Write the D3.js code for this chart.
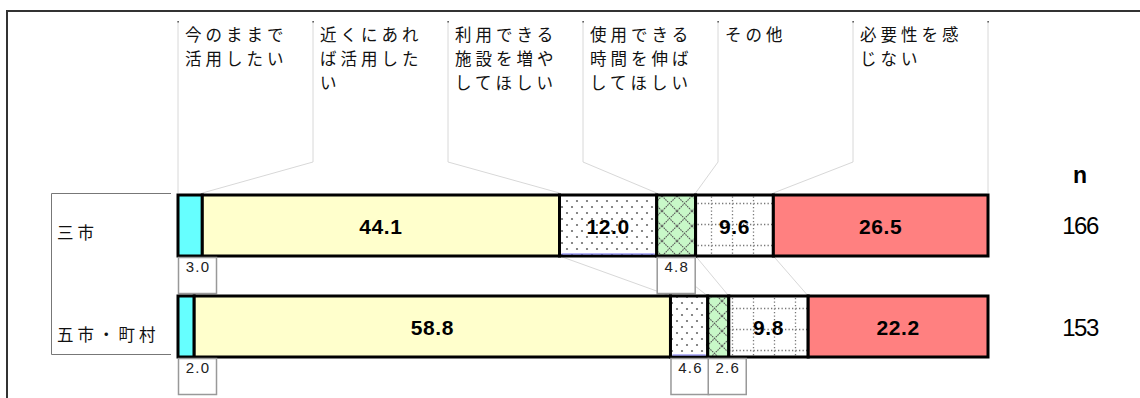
<!DOCTYPE html>
<html>
<head>
<meta charset="utf-8">
<script src="https://cdn.jsdelivr.net/npm/d3@7"></script>
<style>
    body { margin: 0; background: #fff; }
    svg { display: block; }
    text { font-family: "Noto Sans CJK JP", "Liberation Sans", sans-serif; }
    .num { font-family: "Liberation Sans", Arial, sans-serif; }
</style>
</head>
<body>
<div id="chart"></div>
<script>
// answer categories (header), one line per array entry
const categories = [
    ['今のままで', '活用したい'],
    ['近くにあれ', 'ば活用した', 'い'],
    ['利用できる', '施設を増や', 'してほしい'],
    ['使用できる', '時間を伸ば', 'してほしい'],
    ['その他'],
    ['必要性を感', 'じない']
];
const groups = ['三市', '五市・町村'];
const values = [
    [3.0, 44.1, 12.0, 4.8, 9.6, 26.5],
    [2.0, 58.8, 4.6, 2.6, 9.8, 22.2]
];
const nValues = [166, 153];

const width = 1140, height = 398;
const fills = ['#66ffff', '#ffffcc', 'url(#dots)', 'url(#cross)', 'url(#grid)', '#ff8080'];

const svg = d3.select('#chart').append('svg')
    .attr('width', width)
    .attr('height', height);

// patterns
const defs = svg.append('defs');
const dots = defs.append('pattern').attr('id', 'dots')
    .attr('patternUnits', 'userSpaceOnUse').attr('width', 10).attr('height', 12);
dots.append('rect').attr('width', 10).attr('height', 12).attr('fill', '#fff');
dots.append('circle').attr('cx', 2).attr('cy', 3).attr('r', 1.1).attr('fill', '#6a6a6a');
dots.append('circle').attr('cx', 7).attr('cy', 9).attr('r', 1.1).attr('fill', '#6a6a6a');

const cross = defs.append('pattern').attr('id', 'cross')
    .attr('patternUnits', 'userSpaceOnUse').attr('width', 15).attr('height', 15)
    .attr('x', 2).attr('y', 1);
cross.append('rect').attr('width', 15).attr('height', 15).attr('fill', '#c8f8c8');
cross.append('path').attr('d', 'M0,0L15,15M15,0L0,15')
    .attr('stroke', '#5a5a5a').attr('stroke-width', 1.1).attr('stroke-dasharray', '1.6,0.8');

const grid = defs.append('pattern').attr('id', 'grid')
    .attr('patternUnits', 'userSpaceOnUse').attr('width', 21).attr('height', 21)
    .attr('x', 8).attr('y', 4);
grid.append('rect').attr('width', 21).attr('height', 21).attr('fill', '#fff');
grid.append('path').attr('d', 'M0,10.5H21M10.5,0V21')
    .attr('stroke', '#777').attr('stroke-width', 1.3).attr('stroke-dasharray', '1.3,2.2');

// scales
const x = d3.scaleLinear().domain([0, 100]).range([178, 988]);
const y = d3.scaleBand().domain(groups).range([195, 357]).paddingInner(40 / 101);
const col = d3.scaleBand().domain(d3.range(categories.length)).range([178, 988]);

// stacked data
const stacked = values.map((row, gi) => {
    let acc = 0;
    return row.map((v, ci) => {
        const d = { group: groups[gi], ci, v, x0: acc, x1: acc + v };
        acc += v;
        return d;
    });
});

// outer frame (top and left)
svg.append('path')
    .attr('d', `M7,${height}V11H${width}`)
    .attr('fill', 'none').attr('stroke', '#333').attr('stroke-width', 2);

// row label bracket
svg.append('path')
    .attr('d', 'M171,193.5H51.5V354.5H171')
    .attr('fill', 'none').attr('stroke', '#777').attr('stroke-width', 1);

svg.selectAll('.glabel')
    .data(groups)
    .enter().append('text')
    .attr('class', 'glabel')
    .attr('x', 57)
    .attr('y', (d, i) => y(d) + y.bandwidth() / 2 + 13 + i * 1.5)
    .attr('font-size', 16.5)
    .attr('letter-spacing', 4)
    .attr('fill', '#111')
    .text(d => d);

// header leader lines
const barTop1 = y(groups[0]);
const barBottom1 = barTop1 + y.bandwidth();
const barTop2 = y(groups[1]);
const leaders = svg.append('g').attr('fill', 'none').attr('stroke', '#d8d8d8').attr('stroke-width', 1);
d3.range(categories.length + 1).forEach(k => {
    const cx = k < categories.length ? col(k) : col.range()[1];
    const bx = k === 0 ? x(0) : k === categories.length ? x(100) : x(stacked[0][k - 1].x1);
    leaders.append('path').attr('d', `M${cx},22V162L${bx},${barTop1 - 2}`);
    svg.append('rect').attr('x', cx - 0.5).attr('y', 21).attr('width', 1.2).attr('height', 1.5).attr('fill', '#222');
    if (k > 0 && k < categories.length) {
        const bx2 = x(stacked[1][k - 1].x1);
        leaders.append('path').attr('d', `M${bx},${barBottom1}L${bx2},${barTop2}`);
    }
});

// header labels, one text element per line
svg.selectAll('.hdr')
    .data(categories.flatMap((lines, i) => lines.map((t, j) => ({ t, i, j }))))
    .enter().append('text')
    .attr('class', 'hdr')
    .attr('x', d => col(d.i) + 7)
    .attr('y', d => 41 + d.j * 24)
    .attr('font-size', 16.5)
    .attr('letter-spacing', 4)
    .attr('fill', '#111')
    .text(d => d.t);

// bars
const rows = svg.selectAll('.row')
    .data(stacked)
    .enter().append('g')
    .attr('class', 'row');

rows.selectAll('rect')
    .data(d => d)
    .enter().append('rect')
    .attr('x', d => x(d.x0))
    .attr('y', d => y(d.group))
    .attr('width', d => x(d.x1) - x(d.x0))
    .attr('height', y.bandwidth())
    .attr('fill', d => fills[d.ci])
    .attr('stroke', '#000')
    .attr('stroke-width', 3);

// faint blue bottom edge on the dotted segments
rows.selectAll('.edge')
    .data(d => d.filter(s => s.ci === 2))
    .enter().append('line')
    .attr('class', 'edge')
    .attr('x1', d => x(d.x0) + 2)
    .attr('x2', d => x(d.x1) - 2)
    .attr('y1', d => y(d.group) + y.bandwidth() - 2)
    .attr('y2', d => y(d.group) + y.bandwidth() - 2)
    .attr('stroke', '#7070ee')
    .attr('stroke-width', 1);

// value labels inside bars
rows.selectAll('.inlabel')
    .data(d => d.filter(s => s.v >= 5))
    .enter().append('text')
    .attr('class', 'num inlabel')
    .attr('x', d => (x(d.x0) + x(d.x1)) / 2)
    .attr('y', d => y(d.group) + y.bandwidth() / 2 + 8)
    .attr('text-anchor', 'middle')
    .attr('font-size', 21)
    .attr('font-weight', 'bold')
    .attr('letter-spacing', 0.6)
    .attr('fill', '#000')
    .text(d => d.v.toFixed(1));

// small values in boxes under the bar
const small = rows.selectAll('.small')
    .data(d => d.filter(s => s.v < 5))
    .enter().append('g')
    .attr('class', 'small');
small.append('rect')
    .attr('x', d => x(d.x0) + 0.5)
    .attr('y', d => y(d.group) + y.bandwidth() + 1.5)
    .attr('width', 38)
    .attr('height', 36)
    .attr('fill', '#fff')
    .attr('stroke', '#999')
    .attr('stroke-width', 1.5);
small.append('text')
    .attr('class', 'num')
    .attr('x', d => x(d.x0) + 20)
    .attr('y', d => y(d.group) + y.bandwidth() + 16)
    .attr('text-anchor', 'middle')
    .attr('font-size', 15)
    .attr('letter-spacing', 1.2)
    .attr('fill', '#222')
    .text(d => d.v.toFixed(1));

// n column
svg.append('text')
    .attr('class', 'num')
    .attr('x', 1080)
    .attr('y', 183)
    .attr('text-anchor', 'middle')
    .attr('font-size', 23)
    .attr('font-weight', 'bold')
    .text('n');
svg.selectAll('.nval')
    .data(nValues)
    .enter().append('text')
    .attr('class', 'num nval')
    .attr('x', 1080)
    .attr('y', (d, i) => y(groups[i]) + y.bandwidth() / 2 + 8 + i * 1.5)
    .attr('text-anchor', 'middle')
    .attr('font-size', 24)
    .attr('letter-spacing', -1.5)
    .text(d => d);
</script>
</body>
</html>
